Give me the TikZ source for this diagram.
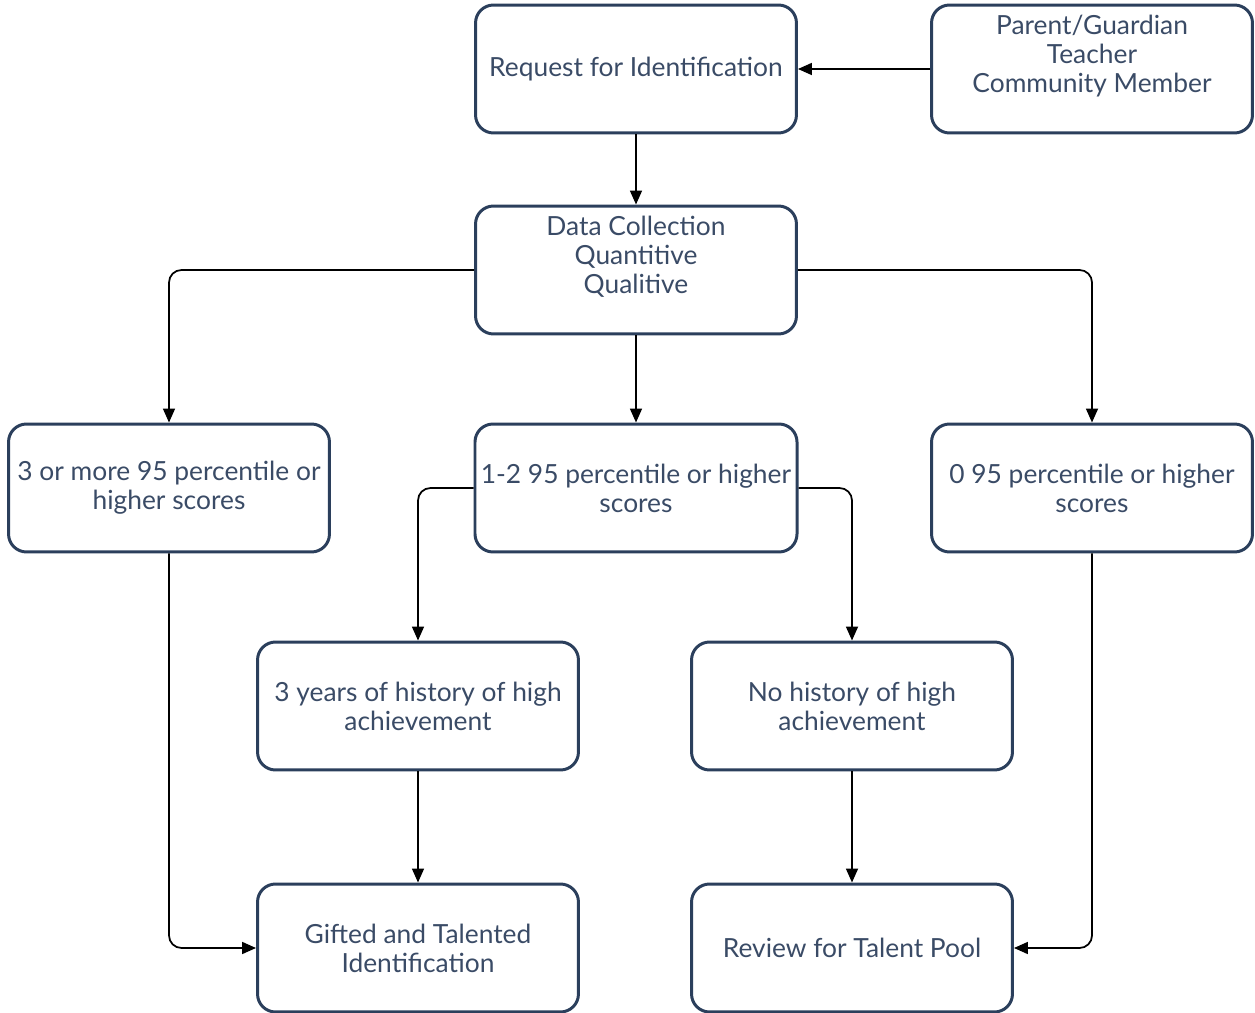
\documentclass[tikz,border=0pt]{standalone}
\usepackage{fontspec}
\setmainfont{Lato}
\usetikzlibrary{arrows.meta,positioning}

\definecolor{boxline}{HTML}{2B3F5C}
\definecolor{boxtext}{HTML}{3A4B66}

\begin{document}
\begin{tikzpicture}[
		x=0.02cm, y=-0.02cm,
		every node/.style={draw=boxline, line width=1.7pt, rounded corners=0.36cm,
			minimum width=6.42cm, minimum height=2.56cm, align=center,
			text=boxtext, font=\fontsize{15}{16.6}\selectfont},
		raised/.style={text depth=0.62cm},
		link/.style={-{Triangle[length=0.28cm,width=0.24cm]}, line width=1pt, rounded corners=0.25cm}
	]
	\useasboundingbox (0,0) rectangle (1255,1013);

	\node at (636,69)   (req)   {Request for Identification} ;
	\node [raised] at (1092,69) (who) {Parent/Guardian\\Teacher\\Community Member} ;
	\node [raised] at (636,270) (data) {Data Collection\\Quantitive\\Qualitive} ;
	\node at (169,488)  (three) {3 or more 95 percentile or\\higher scores} ;
	\node at (636,488)  (some)  {1-2 95 percentile or higher\\scores} ;
	\node at (1092,488) (none)  {0 95 percentile or higher\\scores} ;
	\node at (418,706)  (hist)  {3 years of history of high\\achievement} ;
	\node at (852,706)  (nohist){No history of high\\achievement} ;
	\node at (418,948)  (gift)  {Gifted and Talented\\Identification} ;
	\node at (852,948)  (pool)  {Review for Talent Pool} ;

	\draw [link] (who)  -- (req) ;
	\draw [link] (req)  -- (data) ;
	\draw [link] (data.west) -| (three.north) ;
	\draw [link] (data) -- (some) ;
	\draw [link] (data.east) -| (none.north) ;
	\draw [link] (some.west) -| (hist.north) ;
	\draw [link] (some.east) -| (nohist.north) ;
	\draw [link] (three.south) |- (gift.west) ;
	\draw [link] (hist) -- (gift) ;
	\draw [link] (nohist) -- (pool) ;
	\draw [link] (none.south) |- (pool.east) ;
\end{tikzpicture}
\end{document}
